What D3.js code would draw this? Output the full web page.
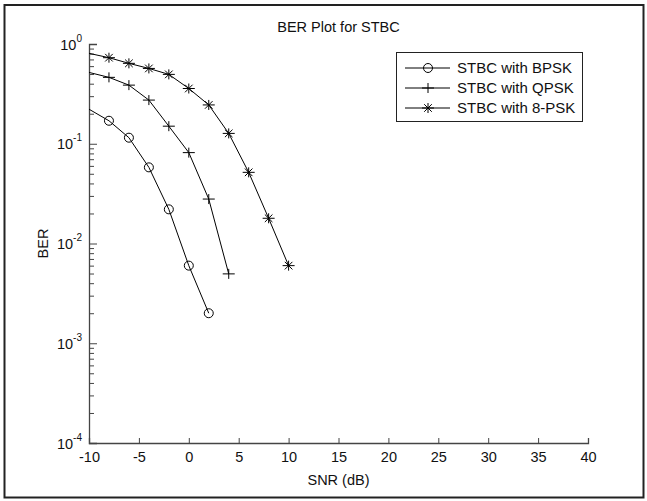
<!DOCTYPE html>
<html>
<head>
<meta charset="utf-8">
<script src="https://cdn.jsdelivr.net/npm/d3@7"></script>
<style>
  html, body { margin: 0; padding: 0; background: #fff; }
  svg { display: block; }
  text { font-family: "Liberation Sans", Arial, sans-serif; fill: #111; }
</style>
</head>
<body>
<svg id="chart" width="647" height="501"></svg>
<script>
// ---- data ----
const snr = [-10, -8, -6, -4, -2, 0, 2, 4, 6, 8, 10];
const berBPSK = [0.222, 0.170, 0.115, 0.058, 0.022, 0.0060, 0.0020];
const berQPSK = [0.519, 0.463, 0.387, 0.274, 0.150, 0.0815, 0.0279, 0.00496];
const ber8PSK = [0.806, 0.729, 0.640, 0.569, 0.496, 0.358, 0.245, 0.127, 0.0517, 0.0179, 0.0060];
const seriesNames = ["STBC with BPSK", "STBC with QPSK", "STBC with 8-PSK"];
const markerTypes = ["circle", "plus", "star"];
const xTicks = [-10, -5, 0, 5, 10, 15, 20, 25, 30, 35, 40];
const yTickExps = [0, -1, -2, -3, -4];

const series = [berBPSK, berQPSK, ber8PSK].map((vals, i) => ({
  name: seriesNames[i],
  marker: markerTypes[i],
  points: vals.map((v, j) => ({ x: snr[j], y: v }))
}));

// ---- layout ----
(function () {
const svg = d3.select("#chart");
const pLeft = 89, pRight = 588, pTop = 44, pBottom = 443;
const x = d3.scaleLinear().domain([-10, 40]).range([pLeft, pRight]);
const y = d3.scaleLog().domain([1e-4, 1]).range([pBottom, pTop]);
const axisColor = "#444";
const FF = "'Liberation Sans', Arial, sans-serif";

// figure border
svg.append("rect").attr("x", 4.5).attr("y", 5).attr("width", 639).attr("height", 492.5)
  .attr("fill", "#fff").attr("stroke", "#222").attr("stroke-width", 2);

// title
svg.append("text").attr("x", (pLeft + pRight) / 2).attr("y", 32)
  .attr("text-anchor", "middle").style("font-size", "14.5px").text("BER Plot for STBC");

// x axis
const xAxis = svg.append("g").attr("transform", `translate(0,${pBottom})`)
  .call(d3.axisBottom(x).tickValues(xTicks).tickSize(-5).tickFormat(d => String(d)));
xAxis.select(".domain").attr("stroke", axisColor).attr("stroke-width", 1.3);
xAxis.selectAll(".tick line").attr("stroke", axisColor);
xAxis.selectAll(".tick text").attr("y", 9).style("font-size", "14.5px")
  .style("font-family", FF).attr("fill", "#111");

// y axis minor ticks
const minors = [];
for (let e = -4; e < 0; e++) for (let m = 2; m <= 9; m++) minors.push(m * Math.pow(10, e));
const yMinor = svg.append("g").attr("transform", `translate(${pLeft},0)`)
  .call(d3.axisLeft(y).tickValues(minors).tickSize(-5).tickFormat(""));
yMinor.select(".domain").remove();
yMinor.selectAll(".tick line").attr("stroke", axisColor);

// y axis major
const yAxis = svg.append("g").attr("transform", `translate(${pLeft},0)`)
  .call(d3.axisLeft(y).tickValues(yTickExps.map(e => Math.pow(10, e))).tickSize(-8).tickFormat(""));
yAxis.select(".domain").attr("stroke", axisColor).attr("stroke-width", 1.3);
yAxis.selectAll(".tick line").attr("stroke", axisColor);
yAxis.selectAll(".tick").each(function(d) {
  const e = Math.round(Math.log10(d));
  const t = d3.select(this).append("text").attr("x", -7).attr("y", 5)
    .attr("text-anchor", "end").attr("fill", "#111").style("font-family", FF);
  t.append("tspan").style("font-size", "14.5px").text("10");
  t.append("tspan").attr("dy", -8).style("font-size", "10px").text(String(e));
});

// axis labels
svg.append("text").attr("x", (pLeft + pRight) / 2).attr("y", 485)
  .attr("text-anchor", "middle").style("font-size", "14.5px").text("SNR (dB)");
svg.append("text").attr("transform", `translate(48,${(pTop + pBottom) / 2}) rotate(-90)`)
  .attr("text-anchor", "middle").style("font-size", "14.5px").text("BER");

// markers
function drawMarker(g, type, cx, cy) {
  if (type === "circle") {
    g.append("circle").attr("cx", cx).attr("cy", cy).attr("r", 4.5)
      .attr("fill", "none").attr("stroke", "#000").attr("stroke-width", 1);
  } else if (type === "plus") {
    g.append("path").attr("d", `M${cx - 6},${cy}H${cx + 6}M${cx},${cy - 5}V${cy + 5}`)
      .attr("stroke", "#000").attr("stroke-width", 1).attr("fill", "none");
  } else {
    const s = 5, d = 3.8;
    g.append("path")
      .attr("d", `M${cx - s - 1},${cy}H${cx + s + 1}M${cx},${cy - s}V${cy + s}` +
                 `M${cx - d},${cy - d}L${cx + d},${cy + d}M${cx - d},${cy + d}L${cx + d},${cy - d}`)
      .attr("stroke", "#000").attr("stroke-width", 1).attr("fill", "none");
  }
}

const line = d3.line().x(d => x(d.x)).y(d => y(d.y));
const plot = svg.append("g");
series.forEach(s => {
  plot.append("path").datum(s.points).attr("d", line)
    .attr("fill", "none").attr("stroke", "#000").attr("stroke-width", 1);
  const mg = plot.append("g");
  s.points.slice(1).forEach(p => drawMarker(mg, s.marker, x(p.x), y(p.y)));
});

// legend
const lg = svg.append("g");
lg.append("rect").attr("x", 396.5).attr("y", 52.5).attr("width", 186).attr("height", 69)
  .attr("fill", "#fff").attr("stroke", "#222").attr("stroke-width", 1);
series.forEach((s, i) => {
  const cy = 68 + i * 20;
  lg.append("line").attr("x1", 405).attr("x2", 450).attr("y1", cy).attr("y2", cy)
    .attr("stroke", "#000").attr("stroke-width", 1);
  drawMarker(lg, s.marker, 428, cy);
  lg.append("text").attr("x", 457).attr("y", cy + 5).style("font-size", "15px").text(s.name);
});
})();
</script>
</body>
</html>
